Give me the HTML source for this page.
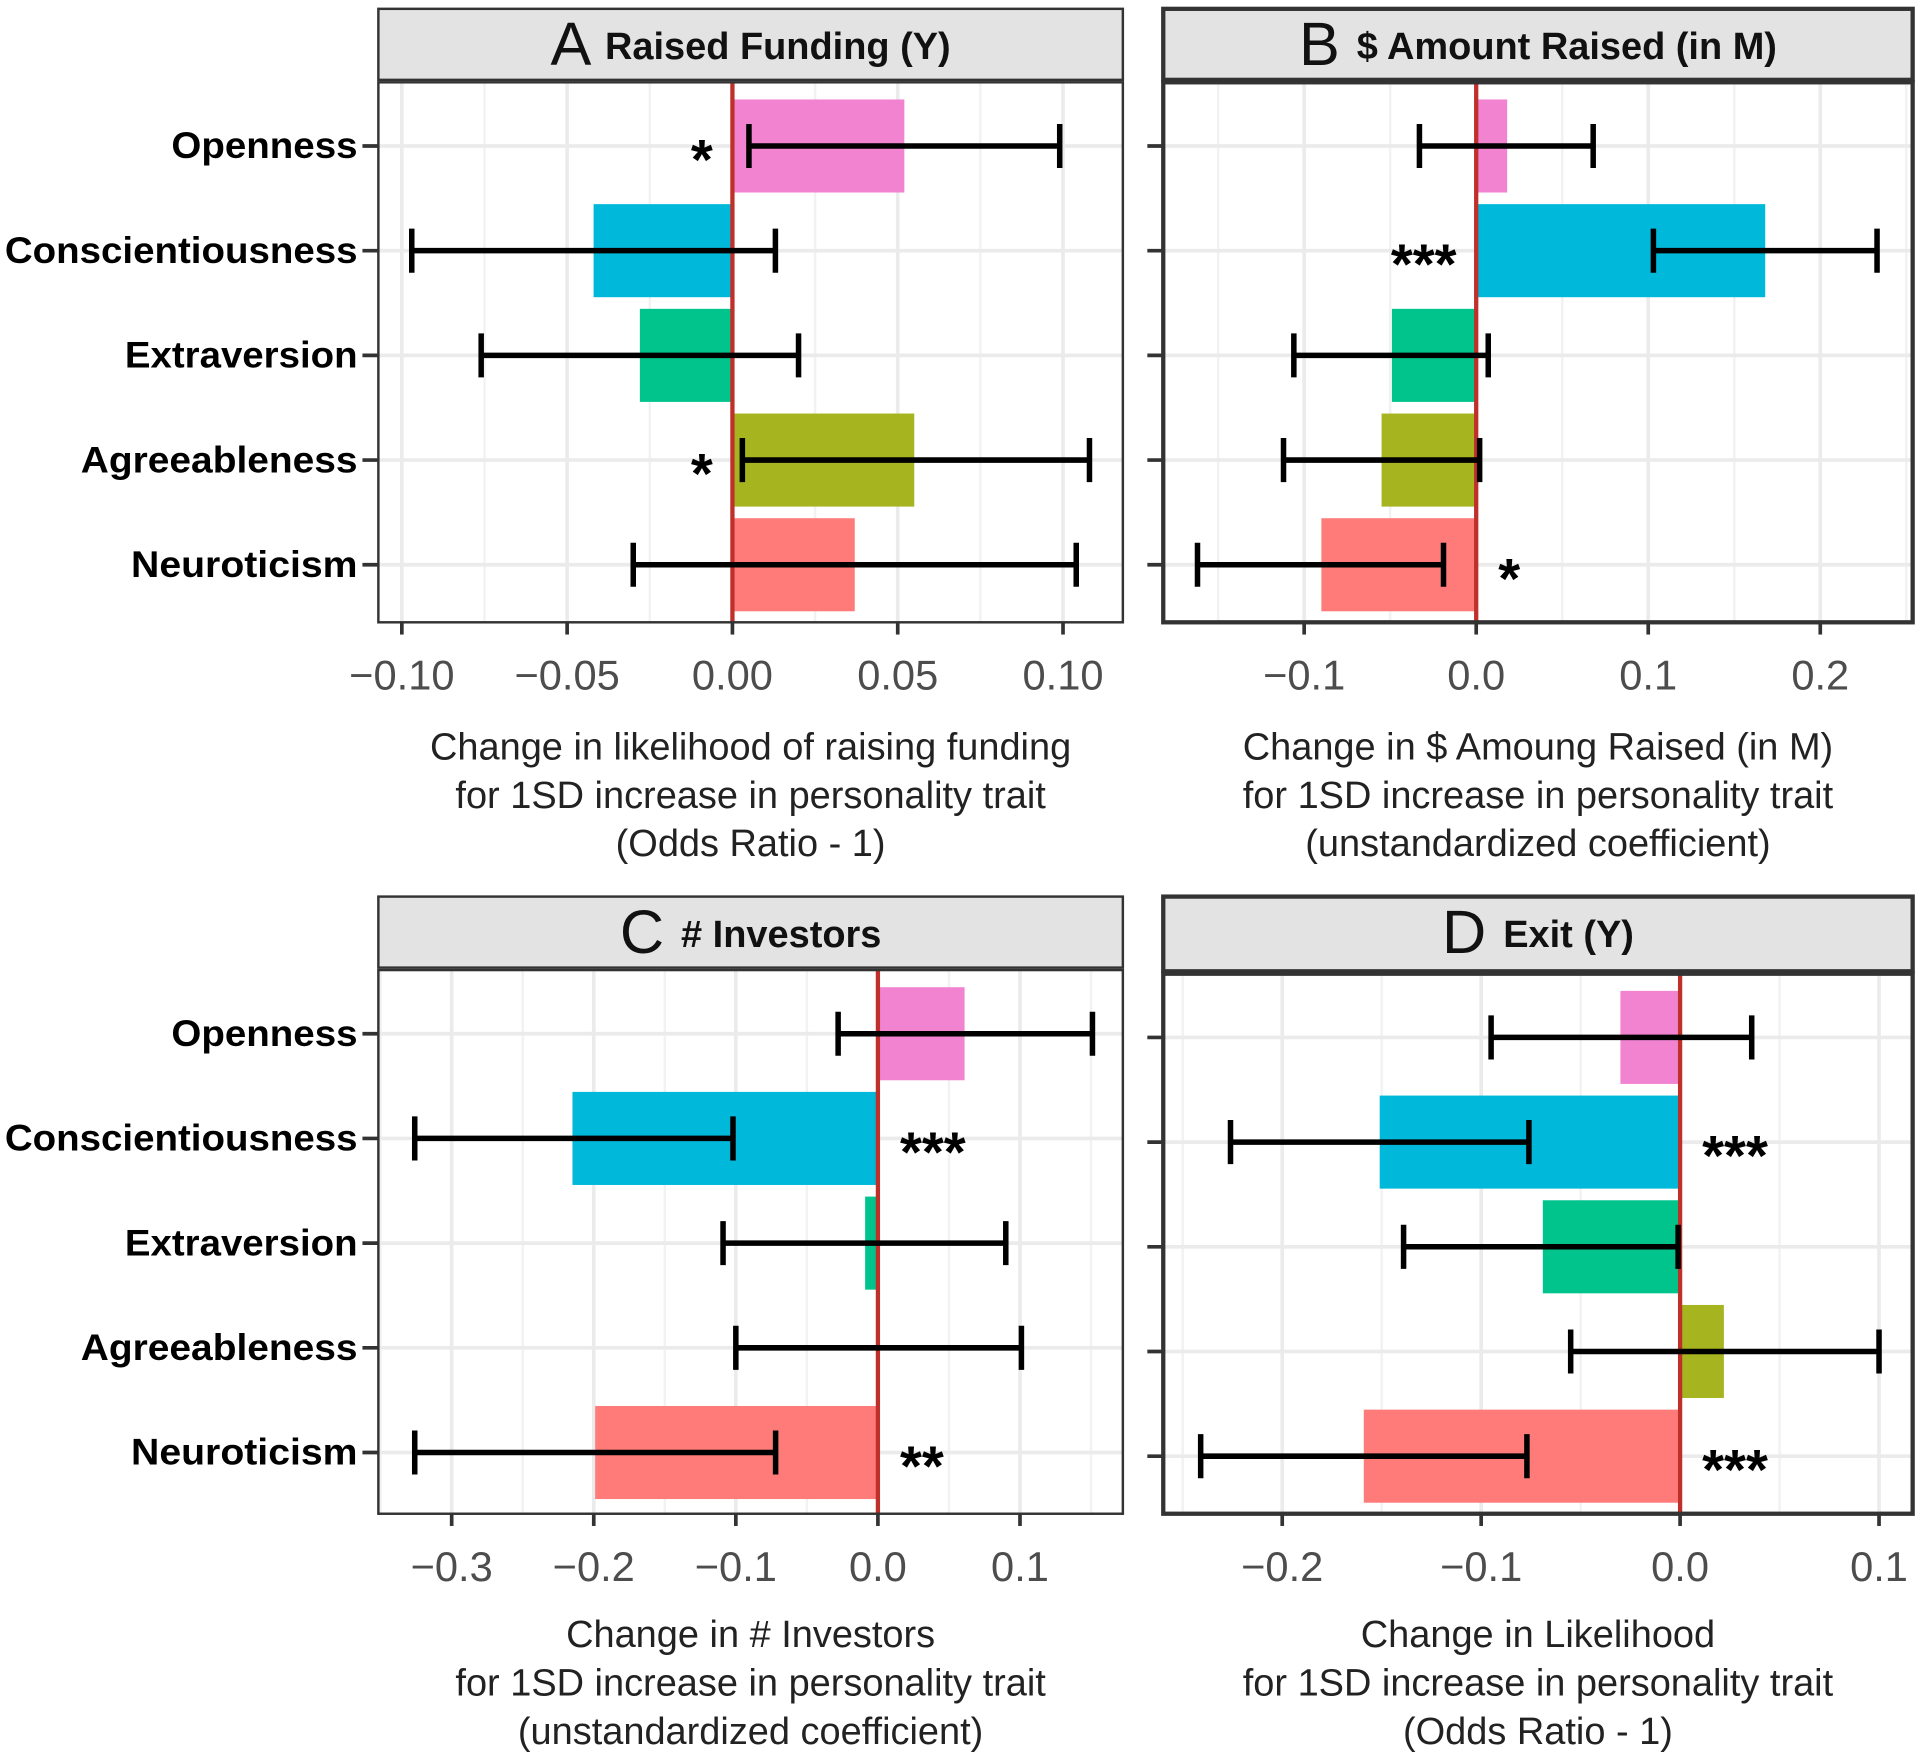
<!DOCTYPE html>
<html><head><meta charset="utf-8">
<style>
html,body{margin:0;padding:0;background:#fff;}
svg{display:block;}
text{font-family:"Liberation Sans",sans-serif;}
</style></head>
<body>
<svg id="chart" width="1920" height="1754" viewBox="0 0 1568 1432" xmlns="http://www.w3.org/2000/svg">
<rect x="0" y="0" width="1568" height="1432" fill="#fff"/>
</svg>
<script>
const categories = ["Openness","Conscientiousness","Extraversion","Agreeableness","Neuroticism"];
const colors = ["#f183d1","#00b8d9","#00c48b","#a5b41f","#fe7b79"];
const labelWidths = [152,288,190,226,185];

const aVals = [0.052,-0.042,-0.028,0.055,0.037];
const aLo = [0.005,-0.097,-0.076,0.003,-0.030];
const aHi = [0.099,0.013,0.020,0.108,0.104];
const aStars = ["*","","","*",""];
const aTicks = [-0.10,-0.05,0.00,0.05,0.10];
const aTickLabels = ["\u22120.10","\u22120.05","0.00","0.05","0.10"];

const bVals = [0.018,0.168,-0.049,-0.055,-0.090];
const bLo = [-0.033,0.103,-0.106,-0.112,-0.162];
const bHi = [0.068,0.233,0.007,0.002,-0.019];
const bStars = ["","***","","","*"];
const bTicks = [-0.1,0.0,0.1,0.2];
const bTickLabels = ["\u22120.1","0.0","0.1","0.2"];

const cVals = [0.061,-0.215,-0.009,0.0,-0.199];
const cLo = [-0.028,-0.326,-0.109,-0.100,-0.326];
const cHi = [0.151,-0.102,0.090,0.101,-0.072];
const cStars = ["","***","","","**"];
const cTicks = [-0.3,-0.2,-0.1,0.0,0.1];
const cTickLabels = ["\u22120.3","\u22120.2","\u22120.1","0.0","0.1"];

const dVals = [-0.030,-0.151,-0.069,0.022,-0.159];
const dLo = [-0.095,-0.226,-0.139,-0.055,-0.241];
const dHi = [0.036,-0.076,-0.001,0.100,-0.077];
const dStars = ["","***","","","***"];
const dTicks = [-0.2,-0.1,0.0,0.1];
const dTickLabels = ["\u22120.2","\u22120.1","0.0","0.1"];

const NS="http://www.w3.org/2000/svg";
const svg=document.getElementById('chart');
function mk(tag,attrs,parent,txt){const e=document.createElementNS(NS,tag);for(const k in attrs)e.setAttribute(k,attrs[k]);if(txt!==undefined)e.textContent=txt;(parent||svg).appendChild(e);return e;}

const panels=[
 {key:"a",letter:"A",title:"Raised Funding (Y)",x0:309,x1:917,sy:7,py:67,pb:508,dom:[-0.1071,0.1181],vals:aVals,lo:aLo,hi:aHi,stars:aStars,ticks:aTicks,tl:aTickLabels,ylab:true,sw:2,
  title2:["Change in likelihood of raising funding","for 1SD increase in personality trait","(Odds Ratio - 1)"]},
 {key:"b",letter:"B",title:"$ Amount Raised (in M)",x0:950,x1:1562,sy:7,py:67,pb:508,dom:[-0.1819,0.2537],vals:bVals,lo:bLo,hi:bHi,stars:bStars,ticks:bTicks,tl:bTickLabels,ylab:false,sw:3.5,
  title2:["Change in $ Amoung Raised (in M)","for 1SD increase in personality trait","(unstandardized coefficient)"]},
 {key:"c",letter:"C",title:"# Investors",x0:309,x1:917,sy:732,py:792,pb:1236,dom:[-0.3516,0.1724],vals:cVals,lo:cLo,hi:cHi,stars:cStars,ticks:cTicks,tl:cTickLabels,ylab:true,sw:2,
  title2:["Change in # Investors","for 1SD increase in personality trait","(unstandardized coefficient)"]},
 {key:"d",letter:"D",title:"Exit (Y)",x0:950,x1:1562,sy:732,py:795,pb:1236,dom:[-0.2598,0.1169],vals:dVals,lo:dLo,hi:dHi,stars:dStars,ticks:dTicks,tl:dTickLabels,ylab:false,sw:3.5,
  title2:["Change in Likelihood","for 1SD increase in personality trait","(Odds Ratio - 1)"]}
];

panels.forEach(p=>{
  const g=mk('g',{});
  
  
  const X=v=>p.x0+(v-p.dom[0])/(p.dom[1]-p.dom[0])*(p.x1-p.x0);
  const Y=i=>p.py+52+i*85.5;
  const bw=38;
  const strip=mk('rect',{x:p.x0,y:p.sy,width:p.x1-p.x0,height:p.py-p.sy-2,fill:"#e3e3e3",stroke:"#333","stroke-width":p.sw},g);
  
  
  const mid=(p.x0+p.x1)/2;
  const st=mk('text',{x:mid,y:p.sy+46,"text-anchor":"middle",fill:"#111"},g);
  
  
  mk('tspan',{"font-size":"50"},st,p.letter+" ");
  mk('tspan',{"font-size":"31","font-weight":"bold",dy:"-5"},st,p.title);
  mk('rect',{x:p.x0,y:p.py,width:p.x1-p.x0,height:p.pb-p.py,fill:"#fff"},g);
  for(let k=0;k<p.ticks.length-1;k++){
    const mv=(p.ticks[k]+p.ticks[k+1])/2;
    mk('line',{x1:X(mv),x2:X(mv),y1:p.py,y2:p.pb,stroke:"#f2f2f2","stroke-width":2},g);
  }
  const step=p.ticks[1]-p.ticks[0];
  [p.ticks[0]-step/2,p.ticks[p.ticks.length-1]+step/2].forEach(mv=>{
    if(X(mv)>p.x0&&X(mv)<p.x1) mk('line',{x1:X(mv),x2:X(mv),y1:p.py,y2:p.pb,stroke:"#f2f2f2","stroke-width":2},g);
  });
  p.ticks.forEach(v=>mk('line',{x1:X(v),x2:X(v),y1:p.py,y2:p.pb,stroke:"#ebebeb","stroke-width":3},g));
  categories.forEach((c,i)=>mk('line',{x1:p.x0,x2:p.x1,y1:Y(i),y2:Y(i),stroke:"#ebebeb","stroke-width":3},g));
  categories.forEach((c,i)=>{
    const v=p.vals[i];
    const b=mk('rect',{x:Math.min(X(0),X(v)),y:Y(i)-bw,width:Math.abs(X(v)-X(0)),height:bw*2,fill:colors[i]},g);
    
    
  });
  const z=mk('line',{x1:X(0),x2:X(0),y1:p.py,y2:p.pb,stroke:"#c0302a","stroke-width":3.5},g);
  
  
  categories.forEach((c,i)=>{
    const eg=mk('g',{stroke:"#000","stroke-width":4.5},g);
    
    
    mk('line',{x1:X(p.lo[i]),x2:X(p.hi[i]),y1:Y(i),y2:Y(i)},eg);
    mk('line',{x1:X(p.lo[i]),x2:X(p.lo[i]),y1:Y(i)-18,y2:Y(i)+18},eg);
    mk('line',{x1:X(p.hi[i]),x2:X(p.hi[i]),y1:Y(i)-18,y2:Y(i)+18},eg);
    if(p.stars[i]){
      const pos=p.vals[i]>=0;
      const s=mk('text',{x:pos?X(0)-16:X(0)+18,y:Y(i)+27,"text-anchor":pos?"end":"start","font-size":"46","font-weight":"bold",fill:"#000"},g,p.stars[i]);
      
      
    }
  });
  mk('rect',{x:p.x0,y:p.py,width:p.x1-p.x0,height:p.pb-p.py,fill:"none",stroke:"#333","stroke-width":p.sw},g);
  categories.forEach((c,i)=>{
    mk('line',{x1:p.x0-13,x2:p.x0,y1:Y(i),y2:Y(i),stroke:"#333","stroke-width":3},g);
    if(p.ylab){
      const l=mk('text',{x:p.x0-17,y:Y(i)+10,"text-anchor":"end","font-size":"30","font-weight":"bold",fill:"#000",textLength:labelWidths[i],lengthAdjust:"spacingAndGlyphs"},g,c);
      
      
    }
  });
  p.ticks.forEach((v,k)=>{
    mk('line',{x1:X(v),x2:X(v),y1:p.pb,y2:p.pb+10,stroke:"#333","stroke-width":3},g);
    const t=mk('text',{x:X(v),y:p.pb+55,"text-anchor":"middle","font-size":"34",fill:"#4d4d4d"},g,p.tl[k]);
    
    
  });
  const at=mk('text',{x:mid,"text-anchor":"middle","font-size":"31",fill:"#222"},g);
  
  
  const base=p.key==="a"||p.key==="b"?620:1345;
  p.title2.forEach((ln,j)=>mk('tspan',{x:mid,y:base+j*39.5},at,ln));
});
</script>
</body></html>
